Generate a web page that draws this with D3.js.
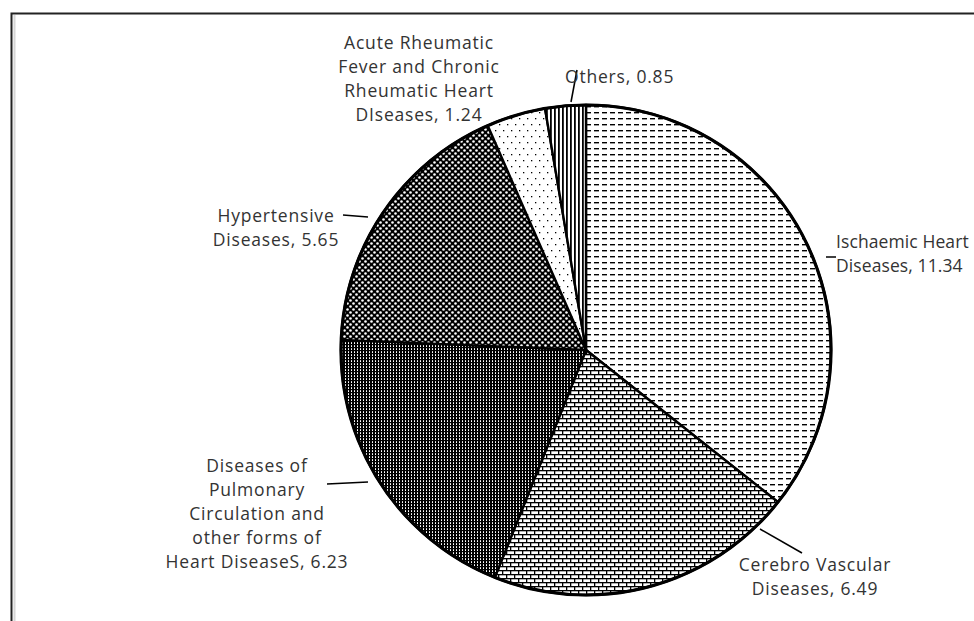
<!DOCTYPE html>
<html>
  <head>
    <meta charset="UTF-8">
    <script src="https://d3js.org/d3.v7.min.js"></script>
    <style type="text/css">
      body { margin: 0px; padding: 0px; background: #fff; }
      text { font-family: "Open Sans", "Noto Sans", sans-serif; font-size: 17.5px; letter-spacing: 0.8px; fill: #333; }
      text.tight { letter-spacing: 0.1px; }
    </style>
  </head>
  <body>
    <div id="chart"></div>
    <script>
      // slices, clockwise from 12 o'clock
      const categories = [
        "Ischaemic Heart\nDiseases",
        "Cerebro Vascular\nDiseases",
        "Diseases of\nPulmonary\nCirculation and\nother forms of\nHeart DiseaseS",
        "Hypertensive\nDiseases",
        "Acute Rheumatic\nFever and Chronic\nRheumatic Heart\nDIseases",
        "Others"
      ];
      const values = [11.34, 6.49, 6.23, 5.65, 1.24, 0.85];
      const patterns = ["dashH", "brick", "denseV", "sphere", "dots", "wideV"];

      // label placement: text anchor point + leader line
      const labelLayout = [
        { x: 836, y: 242, anchor: "start",  lead: [826, 257, 836, 257], cls: "tight" },
        { x: 815, y: 565, anchor: "middle", lead: [760, 529, 802, 553] },
        { x: 257, y: 466, anchor: "middle", lead: [327, 484, 368, 482] },
        { x: 276, y: 216, anchor: "middle", lead: [343, 215, 368, 217] },
        { x: 419, y: 43,  anchor: "middle", lead: null },
        { x: 565, y: 77,  anchor: "start",  lead: [571, 102, 577, 70] }
      ];

      const width = 974, height = 621;
      const cx = 586, cy = 350, radius = 245;
      const lineHeight = 24;

      const svg = d3.select("#chart").append("svg")
        .attr("width", width)
        .attr("height", height);

      // fill patterns (black & white hatches)
      const defs = svg.append("defs");
      const pat = (id, w, h) => {
        const p = defs.append("pattern").attr("id", id)
          .attr("patternUnits", "userSpaceOnUse")
          .attr("width", w).attr("height", h);
        p.append("rect").attr("width", w).attr("height", h).attr("fill", "#fff");
        return p;
      };
      // dashed horizontal
      let p = pat("dashH", 8, 6);
      p.append("rect").attr("x", 0).attr("y", 2).attr("width", 5).attr("height", 1.4).attr("fill", "#000");
      // horizontal brick
      p = pat("brick", 8, 8);
      p.append("rect").attr("x", 0).attr("y", 0).attr("width", 8).attr("height", 1.3).attr("fill", "#000");
      p.append("rect").attr("x", 0).attr("y", 4).attr("width", 8).attr("height", 1.3).attr("fill", "#000");
      p.append("rect").attr("x", 0).attr("y", 0).attr("width", 1.3).attr("height", 4).attr("fill", "#000");
      p.append("rect").attr("x", 4).attr("y", 4).attr("width", 1.3).attr("height", 4).attr("fill", "#000");
      // dark vertical with small ticks
      p = pat("denseV", 3, 3);
      p.append("rect").attr("x", 0).attr("y", 0).attr("width", 2).attr("height", 3).attr("fill", "#000");
      p.append("rect").attr("x", 2).attr("y", 0).attr("width", 1).attr("height", 1.2).attr("fill", "#000");
      // spheres on black
      p = pat("sphere", 6, 6);
      p.select("rect").attr("fill", "#000");
      p.append("circle").attr("cx", 1.5).attr("cy", 1.5).attr("r", 1.3).attr("fill", "#fff");
      p.append("circle").attr("cx", 4.5).attr("cy", 4.5).attr("r", 1.3).attr("fill", "#fff");
      // sparse dots
      p = pat("dots", 8, 12);
      p.append("rect").attr("x", 1).attr("y", 2).attr("width", 1.3).attr("height", 1.3).attr("fill", "#000");
      p.append("rect").attr("x", 5).attr("y", 8).attr("width", 1.3).attr("height", 1.3).attr("fill", "#000");
      // wide vertical
      p = pat("wideV", 4, 4);
      p.append("rect").attr("x", 0).attr("y", 0).attr("width", 1.8).attr("height", 4).attr("fill", "#000");

      // frame
      svg.append("rect")
        .attr("x", 11.5).attr("y", 13.5)
        .attr("width", width).attr("height", height)
        .attr("fill", "none").attr("stroke", "#222").attr("stroke-width", 2);
      svg.append("line")
        .attr("x1", 14.5).attr("x2", 14.5).attr("y1", 15).attr("y2", height)
        .attr("stroke", "#d6d6d6").attr("stroke-width", 2);

      const data = categories.map((c, i) => ({ name: c, value: values[i], pattern: patterns[i] }));
      const pie = d3.pie().sort(null).value(d => d.value);
      const arc = d3.arc().innerRadius(0).outerRadius(radius);

      const g = svg.append("g").attr("transform", `translate(${cx},${cy})`);
      g.selectAll("path.slice")
        .data(pie(data)).enter().append("path")
        .attr("class", "slice")
        .attr("d", arc)
        .attr("fill", d => `url(#${d.data.pattern})`)
        .attr("stroke", "#000")
        .attr("stroke-width", 2.4)
        .attr("stroke-linejoin", "round");
      g.append("circle")
        .attr("r", radius)
        .attr("fill", "none")
        .attr("stroke", "#000")
        .attr("stroke-width", 3.2);

      // data labels
      data.forEach((d, i) => {
        const L = labelLayout[i];
        if (L.lead) {
          svg.append("line")
            .attr("x1", L.lead[0]).attr("y1", L.lead[1])
            .attr("x2", L.lead[2]).attr("y2", L.lead[3])
            .attr("stroke", "#000").attr("stroke-width", 1.5);
        }
        const lines = (d.name + ", " + d.value.toFixed(2)).split("\n");
        const t = svg.append("text")
          .attr("class", L.cls || null)
          .attr("text-anchor", L.anchor);
        lines.forEach((ln, j) => {
          t.append("tspan")
            .attr("x", L.x)
            .attr("y", L.y + j * lineHeight)
            .attr("dy", "0.35em")
            .text(ln);
        });
      });
    </script>
  </body>
</html>
